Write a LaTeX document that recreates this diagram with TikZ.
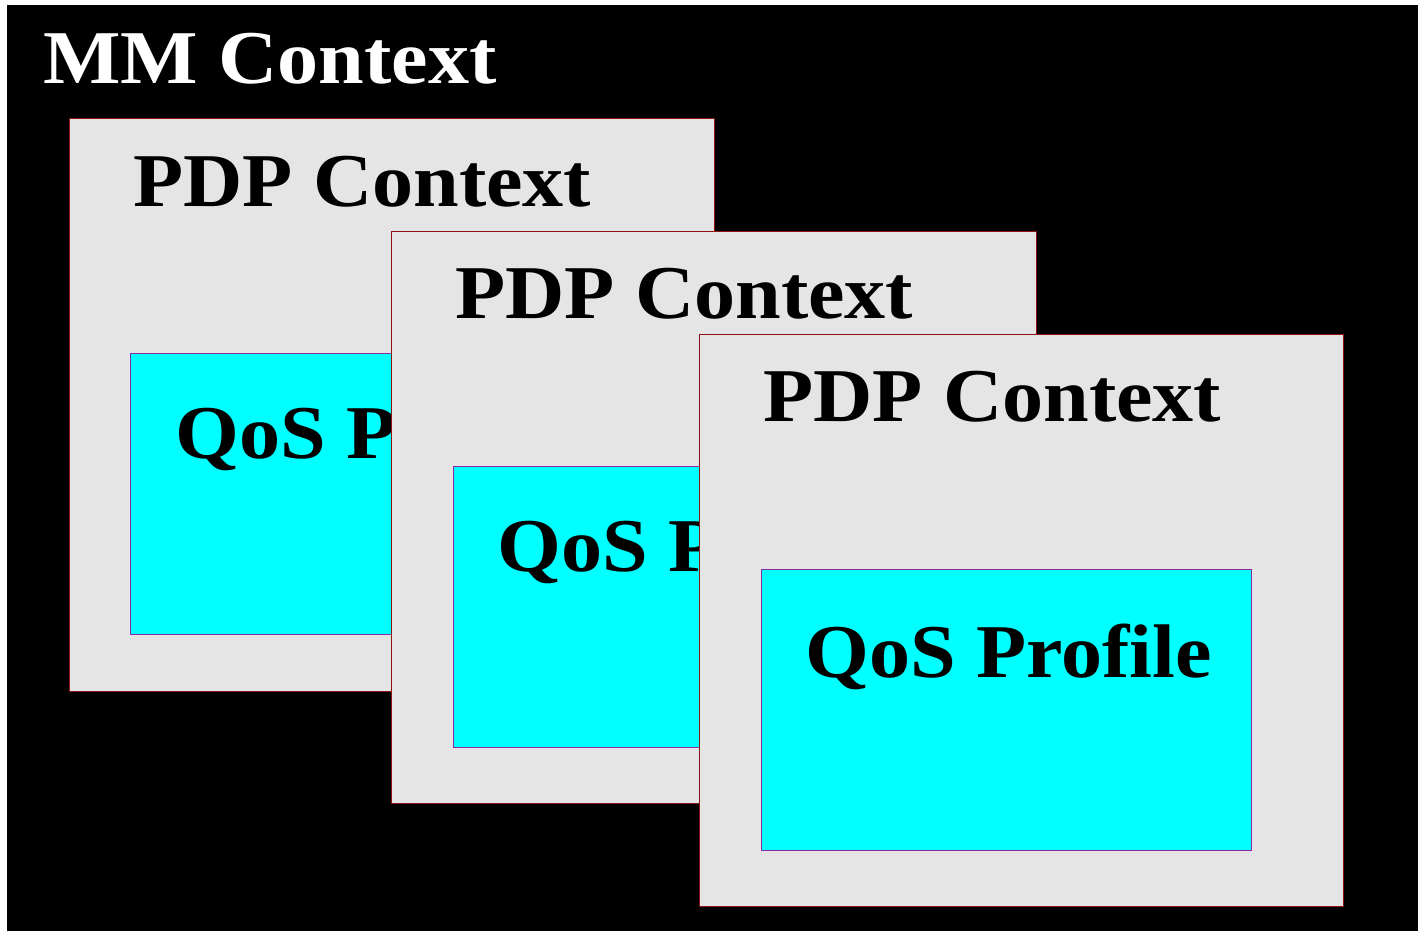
\documentclass[tikz,border=0pt]{standalone}
\usepackage{fontspec}
\setmainfont[FakeStretch=1.08]{Liberation Serif}
\tikzset{
  pdpbox/.style={draw={rgb,255:red,140;green,20;blue,20}, line width=1pt, fill={rgb,255:red,229;green,229;blue,229}},
  qosbox/.style={draw={rgb,255:red,140;green,40;blue,170}, line width=1pt, fill={rgb,255:red,0;green,255;blue,255}},
  bigtxt/.style={inner sep=0pt, anchor=base west, font=\fontsize{76}{76}\selectfont\bfseries},
}
\begin{document}
\begin{tikzpicture}[x=1pt,y=-1pt]
\useasboundingbox (0,0) rectangle (1418,931);
\fill[white] (0,0) rectangle (1418,931);
\fill[black] (7,5) rectangle (1418,931);
\node[bigtxt, text=white] (mm) at (43,84) {MM Context};
% context 1
\draw[pdpbox] (69,119) rectangle (714,691);
\draw[qosbox] (130,353) rectangle (620,634);
\node[bigtxt] (p1) at (133,206.7) {PDP Context};
\node[bigtxt] (q1) at (175,458) {QoS Profile};
% context 2
\draw[pdpbox] (391,231) rectangle (1036,803);
\draw[qosbox] (453,466) rectangle (943,747);
\node[bigtxt] (p2) at (455,318.7) {PDP Context};
\node[bigtxt] (q2) at (497,571) {QoS Profile};
% context 3
\draw[pdpbox] (699,334) rectangle (1343,906);
\draw[qosbox] (761,569) rectangle (1251,850);
\node[bigtxt] (p3) at (763,421.7) {PDP Context};
\node[bigtxt] (q3) at (805,677) {QoS Profile};
\end{tikzpicture}
\end{document}
